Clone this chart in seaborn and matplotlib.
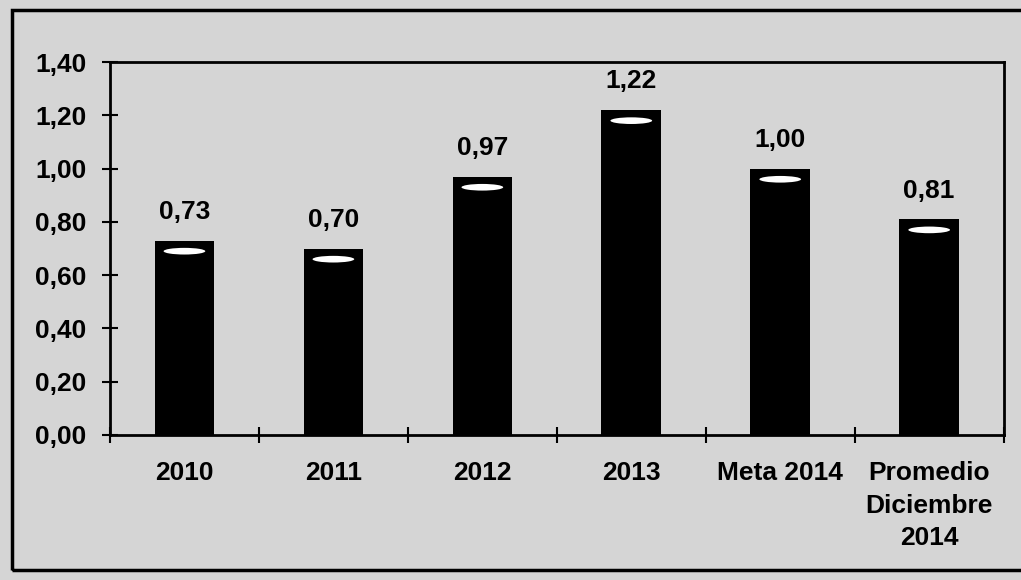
import matplotlib
matplotlib.use("Agg")
import matplotlib.pyplot as plt
from matplotlib.patches import Rectangle, Ellipse
from matplotlib.ticker import FuncFormatter, FixedLocator
import seaborn as sns
import pandas as pd

categories = ["2010", "2011", "2012", "2013", "Meta 2014", "Promedio\nDiciembre\n2014"]
values = [0.73, 0.70, 0.97, 1.22, 1.00, 0.81]
value_labels = ["0,73", "0,70", "0,97", "1,22", "1,00", "0,81"]
y_ticks = [0.0, 0.2, 0.4, 0.6, 0.8, 1.0, 1.2, 1.4]

sns.set_style("white")
plt.rcParams["font.family"] = ["Liberation Sans", "DejaVu Sans"]
plt.rcParams["font.weight"] = "bold"
plt.rcParams["text.color"] = "black"
plt.rcParams["xtick.color"] = "black"
plt.rcParams["ytick.color"] = "black"
plt.rcParams["xtick.labelcolor"] = "black"
plt.rcParams["ytick.labelcolor"] = "black"

bg = "#d5d5d5"
fs = 19
fig = plt.figure(figsize=(10.21, 5.80), dpi=100, facecolor=bg)
ax = fig.add_axes([0.1077, 0.25, 0.983 - 0.1077, 0.893 - 0.25])
ax.set_facecolor(bg)

df = pd.DataFrame({"cat": categories, "val": values})
sns.barplot(data=df, x="cat", y="val", color="black", width=0.4, saturation=1,
            ax=ax, edgecolor="black", linewidth=0)

ax.set_xlim(-0.5, len(categories) - 0.5)
ax.set_ylim(0, 1.4)
ax.set_yticks(y_ticks)
ax.yaxis.set_major_formatter(FuncFormatter(lambda v, p: f"{v:.2f}".replace(".", ",")))
ax.set_xlabel("")
ax.set_ylabel("")

# category boundary ticks
ax.xaxis.set_major_locator(FixedLocator([i - 0.5 for i in range(len(categories) + 1)]))
ax.xaxis.set_major_formatter(FuncFormatter(lambda v, p: ""))
ax.xaxis.set_minor_locator(FixedLocator(list(range(len(categories)))))
ax.set_xticklabels(categories, minor=True, fontsize=fs, fontweight="bold",
                   linespacing=1.45, color="black")
ax.tick_params(axis="x", which="minor", length=0, pad=19)
ax.tick_params(axis="x", which="major", direction="inout", length=12, width=1.5,
               color="black", bottom=True)
ax.tick_params(axis="y", direction="inout", length=12, width=1.5, color="black",
               labelsize=fs, labelcolor="black", pad=11, left=True)
for lbl in ax.get_yticklabels():
    lbl.set_fontweight("bold")

for s in ax.spines.values():
    s.set_visible(True)
    s.set_color("black")
    s.set_linewidth(2)

# value labels and highlight on top of bars
for patch, lab in zip(ax.patches, value_labels):
    x = patch.get_x() + patch.get_width() / 2
    h = patch.get_height()
    ax.annotate(lab, (x, h), xytext=(0, 12), textcoords="offset points",
                ha="center", va="bottom", fontsize=fs, fontweight="bold",
                color="black")
    ax.add_patch(Ellipse((x, h - 0.04), patch.get_width() * 0.7, 0.025,
                         facecolor="white", edgecolor="none", zorder=5))

# outer frame
fig.patches.append(Rectangle((12 / 1021, 10 / 580), 1.02, 560 / 580,
                             transform=fig.transFigure, fill=False,
                             edgecolor="black", linewidth=2.5))

fig.savefig("out.png", dpi=100, facecolor=bg)
